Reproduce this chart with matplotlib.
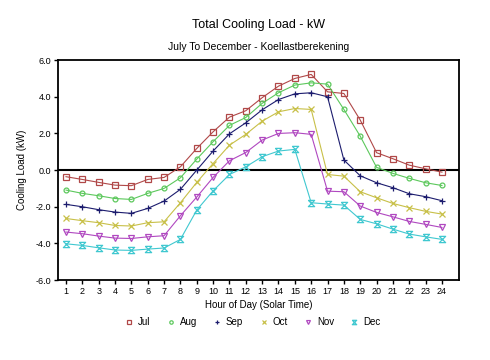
import numpy as np
import matplotlib
matplotlib.use("Agg")
import matplotlib.pyplot as plt
from matplotlib.path import Path

plt.rcParams['font.family'] = ['Liberation Sans', 'DejaVu Sans']

hours = list(range(1, 25))
jul = [-0.36, -0.51, -0.67, -0.82, -0.85, -0.51, -0.40, 0.18, 1.18, 2.09, 2.89, 3.24,
       3.95, 4.58, 5.00, 5.22, 4.27, 4.18, 2.73, 0.95, 0.62, 0.27, 0.07, -0.11]
aug = [-1.09, -1.27, -1.40, -1.55, -1.60, -1.27, -1.00, -0.42, 0.60, 1.55, 2.44, 2.87,
       3.64, 4.22, 4.64, 4.76, 4.69, 3.31, 1.85, 0.15, -0.18, -0.45, -0.69, -0.84]
sep = [-1.87, -2.00, -2.16, -2.29, -2.36, -2.09, -1.69, -1.05, 0.00, 1.04, 1.98, 2.58,
       3.29, 3.85, 4.16, 4.22, 4.00, 0.55, -0.31, -0.69, -0.96, -1.29, -1.45, -1.67]
oct_ = [-2.64, -2.76, -2.87, -3.02, -3.05, -2.87, -2.82, -1.78, -0.67, 0.36, 1.36, 1.95,
        2.67, 3.18, 3.36, 3.31, -0.24, -0.33, -1.18, -1.51, -1.82, -2.05, -2.25, -2.40]
nov = [-3.38, -3.47, -3.60, -3.71, -3.73, -3.64, -3.58, -2.49, -1.47, -0.40, 0.51, 0.96,
       1.64, 2.00, 2.04, 1.95, -1.15, -1.18, -1.96, -2.31, -2.55, -2.80, -2.96, -3.13]
dec = [-4.02, -4.11, -4.24, -4.36, -4.38, -4.31, -4.25, -3.78, -2.18, -1.13, -0.24, 0.18,
       0.73, 1.04, 1.13, -1.78, -1.85, -1.91, -2.69, -2.93, -3.22, -3.49, -3.64, -3.78]

labels = ['Jul', 'Aug', 'Sep', 'Oct', 'Nov', 'Dec']
colors = ['#b04848', '#5cc85c', '#1c1c6e', '#c8c048', '#b048c0', '#40c8d0']
yticks = [6.0, 4.0, 2.0, 0.0, -2.0, -4.0, -6.0]

hourglass = Path([(-1, 1), (1, 1), (-1, -1), (1, -1), (-1, 1)],
                 [Path.MOVETO, Path.LINETO, Path.LINETO, Path.LINETO, Path.LINETO])
markers = ['s', 'o', '+', 'x', 'v', hourglass]
msizes = [4, 3.5, 5, 4, 4, 4.5]

fig = plt.figure(figsize=(4.9, 3.6), dpi=100)
ax = fig.add_axes([0.118, 0.222, 0.819, 0.611])

for data, lab, c, m, ms in zip([jul, aug, sep, oct_, nov, dec], labels, colors, markers, msizes):
    filled = m in ['+', 'x']
    ax.plot(hours, data, color=c, lw=0.8, marker=m, ms=ms,
            mfc=c if filled else 'none', mec=c, mew=0.9, label=lab)

ax.axhline(0, color='black', lw=1.5, zorder=0.5)
ax.set_xlim(0.5, 25.05)
ax.set_ylim(-6, 6)
ax.set_xticks(hours)
ax.set_xticklabels([str(h) for h in hours], fontsize=6.5)
ax.set_yticks(yticks)
ax.set_yticklabels([f"{v:.1f}" for v in yticks], fontsize=6.5)
ax.tick_params(direction='out', length=3, width=1, pad=2)
for s in ax.spines.values():
    s.set_linewidth(1.3)

ax.set_xlabel('Hour of Day (Solar Time)', fontsize=7, labelpad=3)
ax.set_ylabel('Cooling Load (kW)', fontsize=7, labelpad=6)

fig.text(0.527, 0.93, 'Total Cooling Load - kW', ha='center', va='center', fontsize=9)
fig.text(0.527, 0.87, 'July To December - Koellastberekening', ha='center', va='center', fontsize=7.5)

fig.legend(loc='center', bbox_to_anchor=(0.515, 0.105), ncol=6, frameon=False,
           fontsize=7, handlelength=1.0, columnspacing=1.6, handletextpad=0.4,
           markerscale=0.7)
for l in fig.legends[0].get_lines():
    l.set_linestyle('none')

fig.savefig('out.png', dpi=100)
